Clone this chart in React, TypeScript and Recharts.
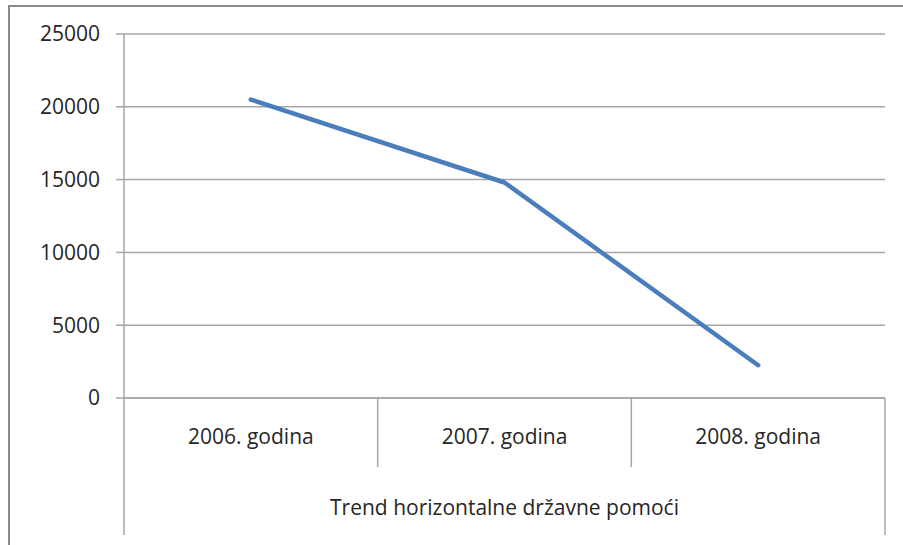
import { LineChart, Line, XAxis, YAxis, CartesianGrid, Label } from "recharts";

const categories = ["2006. godina", "2007. godina", "2008. godina"];
const values = [20500, 14800, 2250];
const yTicks = [0, 5000, 10000, 15000, 20000, 25000];
const axisTitle = "Trend horizontalne državne pomoći";

const data = categories.map((name, i) => ({ name, value: values[i] }));

const CHART_W = 903;
const CHART_H = 545;
const MARGIN = { top: 34, right: 18, bottom: 10, left: 0 };
const YAXIS_W = 124;
const XAXIS_H = 137;
const PLOT_W = CHART_W - MARGIN.left - MARGIN.right - YAXIS_W;
const BAND = PLOT_W / categories.length;

const FONT = "'Open Sans', 'Noto Sans', sans-serif";
const TEXT = "#262626";
const GRID = "#a6a6a6";

function CategoryTick(props: any) {
  const { x, y, payload, index } = props;
  const half = BAND / 2;
  const last = index === categories.length - 1;
  return (
    <g>
      <line
        x1={x - half}
        x2={x - half}
        y1={y}
        y2={y + (index === 0 ? XAXIS_H : 69)}
        stroke={GRID}
        strokeWidth={1.5}
      />
      {last && (
        <line x1={x + half} x2={x + half} y1={y} y2={y + XAXIS_H} stroke={GRID} strokeWidth={1.5} />
      )}
      <text
        x={x}
        y={y + 40}
        textAnchor="middle"
        dominantBaseline="middle"
        fill={TEXT}
        fontSize={21}
        fontFamily={FONT}
      >
        {payload.value}
      </text>
    </g>
  );
}

export default function App() {
  return (
    <div
      style={{
        position: "absolute",
        left: 0,
        top: 0,
        width: CHART_W,
        height: CHART_H,
        background: "#fff",
        overflow: "hidden",
      }}
    >
      <div
        style={{
          position: "absolute",
          left: 8,
          top: 5,
          width: CHART_W,
          height: CHART_H,
          borderLeft: "2px solid #8a8a8a",
          borderTop: "2px solid #8a8a8a",
        }}
      />
      <div style={{ position: "absolute", left: 0, top: 0 }}>
        <LineChart width={CHART_W} height={CHART_H} data={data} margin={MARGIN}>
          <CartesianGrid vertical={false} stroke={GRID} strokeWidth={1.5} />
          <XAxis
            dataKey="name"
            height={XAXIS_H}
            padding={{ left: BAND / 2, right: BAND / 2 }}
            axisLine={{ stroke: GRID, strokeWidth: 1.5 }}
            tickLine={false}
            tickSize={0}
            tickMargin={0}
            tick={<CategoryTick />}
            interval={0}
          >
            <Label
              value={axisTitle}
              position="insideBottom"
              offset={20}
              fill={TEXT}
              fontSize={21}
              fontFamily={FONT}
            />
          </XAxis>
          <YAxis
            width={YAXIS_W}
            domain={[0, 25000]}
            ticks={yTicks}
            interval={0}
            axisLine={{ stroke: GRID, strokeWidth: 1.5 }}
            tickLine={{ stroke: GRID, strokeWidth: 1.5 }}
            tickSize={8}
            tickMargin={16}
            tick={{ fill: TEXT, fontSize: 21, fontFamily: FONT }}
          />
          <Line
            type="linear"
            dataKey="value"
            stroke="#4a7dbb"
            strokeWidth={4.5}
            strokeLinecap="round"
            strokeLinejoin="round"
            dot={false}
            activeDot={false}
            isAnimationActive={false}
          />
        </LineChart>
      </div>
    </div>
  );
}
